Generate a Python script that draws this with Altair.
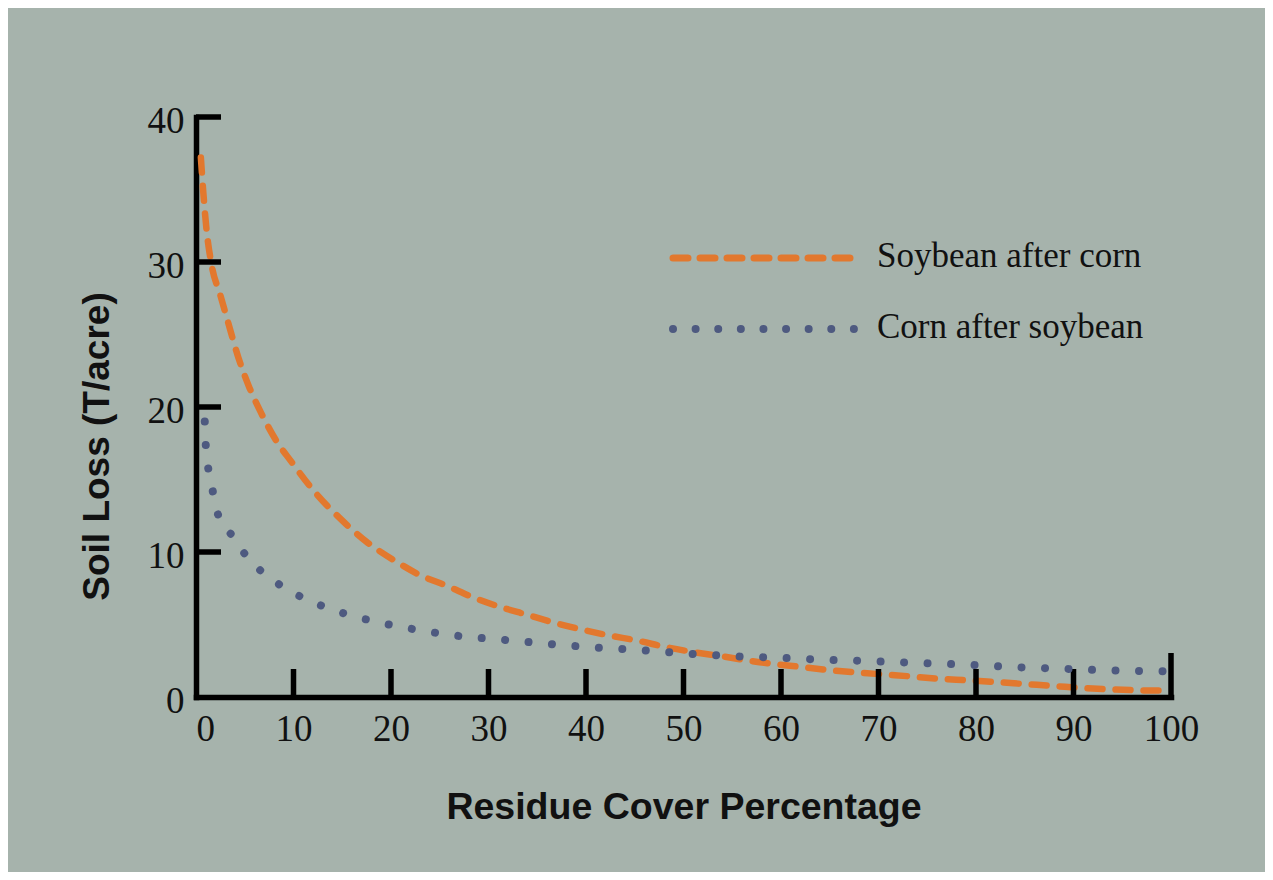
import altair as alt
import pandas as pd

# ---------------- data ----------------
series_names = ["Soybean after corn", "Corn after soybean"]

soy_x = [0.5, 0.75, 1.1, 1.6, 2.5, 3.35, 4.35, 5.5, 6.6, 8.3, 9.7, 12.1, 14.8, 17.5,
         20.5, 23, 25.8, 28.3, 31, 33.9, 36.6, 39.7, 42.4, 45.2, 48.2, 51, 54, 57.8,
         60.9, 64.3, 67.3, 70.4, 73.3, 76.2, 79.1, 82, 85.1, 88, 90.9, 93.8, 96.7, 99.6]
soy_y = [37.2, 34.8, 32.1, 29.8, 27.7, 25.7, 23.4, 21.3, 19.7, 17.6, 16.3, 14.2, 12.3, 10.7,
         9.35, 8.4, 7.65, 6.9, 6.25, 5.68, 5.15, 4.63, 4.24, 3.9, 3.44, 3.1, 2.8, 2.4,
         2.16, 1.9, 1.72, 1.56, 1.42, 1.26, 1.15, 1.03, 0.89, 0.76, 0.62, 0.53, 0.46, 0.44]

corn_x = [0.9, 1.0, 1.25, 1.7, 2.2, 3.8, 5.5, 7.2, 9.1, 11.4, 13.6, 15.9, 18.3, 20.8,
          23.2, 25.8, 28.2, 30.6, 35.4, 40.3, 45.1, 49.9, 54.8, 59.6, 64.5, 69.4,
          74.2, 79.1, 84, 88.8, 94.2, 99.6]
corn_y = [19.0, 17.4, 15.8, 14.25, 12.7, 11.05, 9.44, 8.41, 7.52, 6.71, 6.12, 5.62, 5.22, 4.86,
          4.58, 4.31, 4.12, 4.0, 3.71, 3.44, 3.26, 3.02, 2.82, 2.71, 2.57, 2.47,
          2.34, 2.23, 2.06, 1.95, 1.83, 1.77]

x_tick_values = [0, 10, 20, 30, 40, 50, 60, 70, 80, 90, 100]
y_tick_values = [0, 10, 20, 30, 40]

x_title = "Residue Cover Percentage"
y_title = "Soil Loss (T/acre)"

# ---------------- styling ----------------
W, H = 975, 580
ORANGE = "#e2782e"
SLATE = "#4e5a80"
BG = "#a6b3ac"
INK = "#111111"
SERIF = "Liberation Serif"
SANS = "Liberation Sans"

soy_df = pd.DataFrame({"x": soy_x, "y": soy_y, "series": series_names[0]})
corn_df = pd.DataFrame({"x": corn_x, "y": corn_y, "series": series_names[1]})

x_scale = alt.Scale(domain=[x_tick_values[0], x_tick_values[-1]], nice=False, zero=False)
y_scale = alt.Scale(domain=[y_tick_values[0], y_tick_values[-1]], nice=False)

x_axis = alt.Axis(
    values=x_tick_values, title=x_title, grid=False, ticks=False,
    domain=True, domainColor="#000000", domainWidth=5.5, domainCap="square",
    labelFont=SERIF, labelFontSize=37, labelColor=INK, labelBaseline="alphabetic",
    labelPadding=43, labelFlush=False,
    labelAlign={"condition": {"test": "datum.value === 0", "value": "left"}, "value": "center"},
    titleFont=SANS, titleFontWeight="bold", titleFontSize=37.5, titleColor=INK,
    titleX=W / 2, titleY=121, titleAlign="center", titleBaseline="alphabetic",
)
y_axis = alt.Axis(
    values=y_tick_values, title=y_title, grid=False, ticks=False,
    domain=True, domainColor="#000000", domainWidth=5.5, domainCap="square",
    labelFont=SERIF, labelFontSize=37, labelColor=INK, labelAlign="right",
    labelBaseline="middle", labelPadding=12, labelOffset=4, labelFlush=False,
    titleFont=SANS, titleFontWeight="bold", titleFontSize=37, titleColor=INK,
    titleAngle=270, titleX=-88, titleY=329, titleAlign="center", titleBaseline="alphabetic",
)

X = lambda f: alt.X(f, scale=x_scale, axis=x_axis, title=x_title)
Y = lambda f: alt.Y(f, scale=y_scale, axis=y_axis, title=y_title)

# inward axis ticks
x_minor = pd.DataFrame({"v": x_tick_values[1:-1]})
x_end = pd.DataFrame({"v": x_tick_values[-1:]})
y_minor = pd.DataFrame({"v": y_tick_values[1:]})

x_ticks = alt.Chart(x_minor).mark_rule(color="#000000", strokeWidth=5.5).encode(
    x=X("v:Q"), y=alt.value(H), y2=alt.value(H - 28))
x_end_tick = alt.Chart(x_end).mark_rule(color="#000000", strokeWidth=5.5).encode(
    x=X("v:Q"), y=alt.value(H), y2=alt.value(H - 44))
y_ticks = alt.Chart(y_minor).mark_rule(color="#000000", strokeWidth=5.5).encode(
    y=Y("v:Q"), x=alt.value(0), x2=alt.value(25))

soy_line = alt.Chart(soy_df).mark_line(
    color=ORANGE, strokeWidth=6.5, strokeDash=[15, 13], strokeCap="round",
    interpolate="monotone", clip=False,
).encode(x=X("x:Q"), y=Y("y:Q"))
corn_line = alt.Chart(corn_df).mark_line(
    color=SLATE, strokeWidth=8, strokeDash=[0.01, 23.5], strokeCap="round",
    interpolate="monotone", clip=False,
).encode(x=X("x:Q"), y=Y("y:Q"))

# legend (drawn by hand at the top right)
legend_styles = [
    dict(color=ORANGE, strokeWidth=7, strokeDash=[15, 12]),
    dict(color=SLATE, strokeWidth=8, strokeDash=[0.01, 22.6]),
]
legend_layers = []
for i, name in enumerate(series_names):
    row_y = 141 + 71 * i
    ldf = pd.DataFrame({"series": [name]})
    sym = alt.Chart(ldf).mark_rule(strokeCap="round", **legend_styles[i]).encode(
        x=alt.value(477), x2=alt.value(661), y=alt.value(row_y))
    lab = alt.Chart(ldf).mark_text(
        align="left", baseline="alphabetic", font=SERIF, fontSize=35, color=INK,
    ).encode(x=alt.value(681), y=alt.value(row_y + 8.5), text="series:N")
    legend_layers += [sym, lab]

chart = alt.layer(
    soy_line, x_ticks, x_end_tick, y_ticks, corn_line, *legend_layers
).properties(
    width=W, height=H,
    padding={"left": 188, "top": 109, "right": 94, "bottom": 175},
    autosize=alt.AutoSizeParams(type="none"),
    background=BG,
).configure_view(stroke=None)

chart.save("out.html", embed_options={"renderer": "svg", "actions": False})
